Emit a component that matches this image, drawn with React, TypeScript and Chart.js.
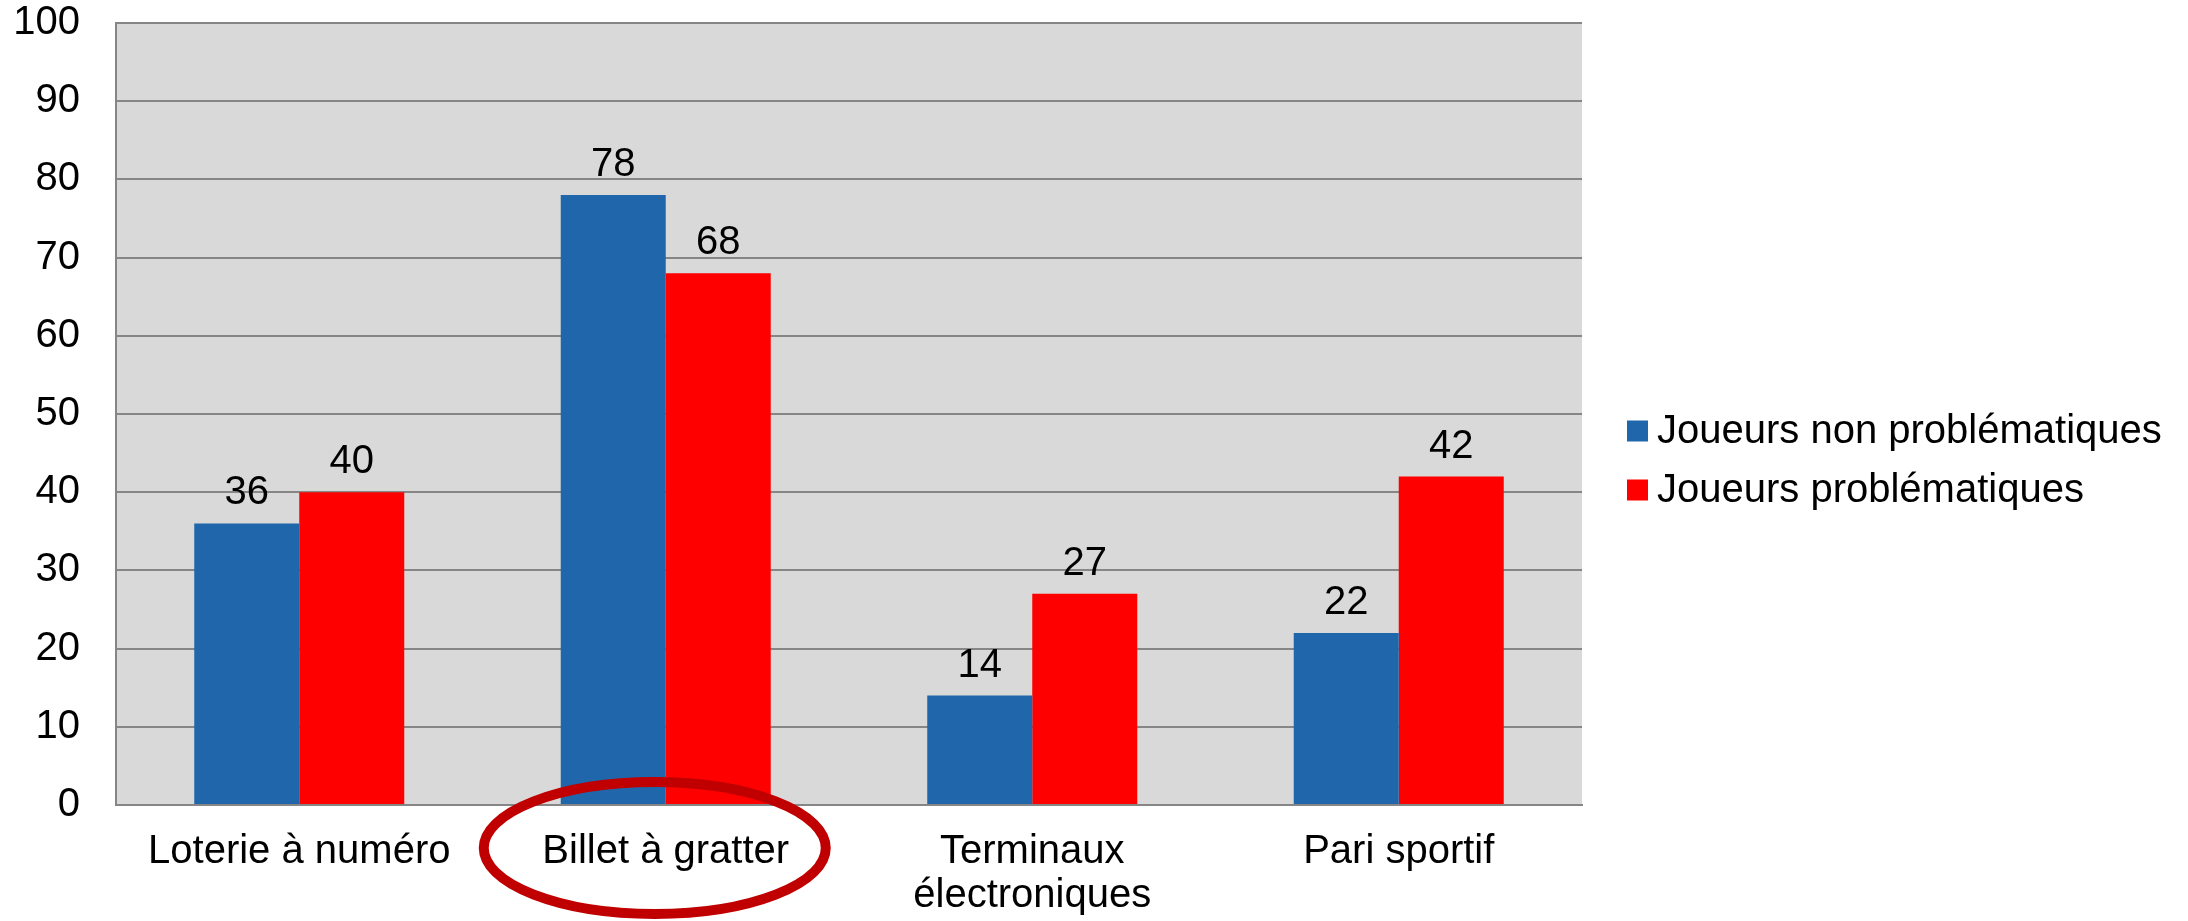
import React, { useEffect, useRef } from 'react';
import { Chart, registerables } from 'chart.js';

Chart.register(...registerables);

const categories: (string | string[])[] = [
  'Loterie à numéro',
  'Billet à gratter',
  ['Terminaux', 'électroniques'],
  'Pari sportif',
];
const seriesNames = ['Joueurs non problématiques', 'Joueurs problématiques'];
const nonProblematic = [36, 78, 14, 22];
const problematic = [40, 68, 27, 42];
const seriesColors = ['#1F66AA', '#FF0000'];
const yMin = 0;
const yMax = 100;
const yStep = 10;
const highlightedCategory = 1;

const FONT = "'Liberation Sans', Arial, sans-serif";
const FONT_SIZE = 40;

const plotBackground = {
  id: 'plotBackground',
  beforeDraw(chart: any) {
    const { ctx, chartArea } = chart;
    ctx.save();
    ctx.fillStyle = '#D9D9D9';
    ctx.fillRect(chartArea.left, chartArea.top, chartArea.right - chartArea.left, chartArea.bottom - chartArea.top);
    ctx.restore();
  },
};

const valueLabels = {
  id: 'valueLabels',
  afterDatasetsDraw(chart: any) {
    const { ctx } = chart;
    ctx.save();
    ctx.font = `${FONT_SIZE}px ${FONT}`;
    ctx.fillStyle = '#000';
    ctx.textAlign = 'center';
    ctx.textBaseline = 'alphabetic';
    chart.data.datasets.forEach((ds: any, i: number) => {
      const meta = chart.getDatasetMeta(i);
      meta.data.forEach((bar: any, j: number) => {
        ctx.fillText(String(ds.data[j]), bar.x, bar.y - 19);
      });
    });
    ctx.restore();
  },
};

const customLegend = {
  id: 'customLegend',
  afterDraw(chart: any) {
    const { ctx, chartArea } = chart;
    const x0 = chartArea.right + 45;
    const rowGap = 59;
    const n = chart.data.datasets.length;
    const centerY = chart.height / 2;
    const startY = centerY - ((n - 1) * rowGap) / 2;
    ctx.save();
    ctx.font = `${FONT_SIZE}px ${FONT}`;
    ctx.textAlign = 'left';
    ctx.textBaseline = 'middle';
    chart.data.datasets.forEach((ds: any, i: number) => {
      const cy = startY + i * rowGap;
      ctx.fillStyle = ds.backgroundColor;
      ctx.fillRect(x0, cy - 10.5, 21, 21);
      ctx.fillStyle = '#000';
      ctx.fillText(ds.label, x0 + 30, cy + 1);
    });
    ctx.restore();
  },
};

const highlightEllipse = {
  id: 'highlightEllipse',
  afterDraw(chart: any) {
    const { ctx, chartArea } = chart;
    const xScale = chart.scales.x;
    const cx = xScale.getPixelForValue(highlightedCategory) - 11;
    const cy = chartArea.bottom + 43;
    ctx.save();
    ctx.strokeStyle = '#C00000';
    ctx.lineWidth = 10;
    ctx.beginPath();
    ctx.ellipse(cx, cy, 171, 66, 0, 0, Math.PI * 2);
    ctx.stroke();
    ctx.restore();
  },
};

export default function App() {
  const canvasRef = useRef<HTMLCanvasElement | null>(null);

  useEffect(() => {
    document.body.style.margin = '0';
    const canvas = canvasRef.current;
    if (!canvas) return;
    const chart = new Chart(canvas, {
      type: 'bar',
      data: {
        labels: categories as any,
        datasets: [
          {
            label: seriesNames[0],
            data: nonProblematic,
            backgroundColor: seriesColors[0],
            categoryPercentage: 0.573,
            barPercentage: 1,
          },
          {
            label: seriesNames[1],
            data: problematic,
            backgroundColor: seriesColors[1],
            categoryPercentage: 0.573,
            barPercentage: 1,
          },
        ],
      },
      options: {
        responsive: false,
        animation: false,
        layout: { padding: { left: 0, top: 23, right: 606, bottom: 0 } },
        plugins: {
          legend: { display: false },
          tooltip: { enabled: false },
        },
        scales: {
          x: {
            grid: { display: false, drawTicks: false },
            border: { display: true, color: '#868686', width: 2 },
            ticks: {
              color: '#000',
              padding: 25,
              maxRotation: 0,
              autoSkip: false,
              font: { family: FONT, size: FONT_SIZE, lineHeight: 44 / 40 },
            },
            afterFit(scale: any) {
              scale.height = 116;
              scale.paddingLeft = 0;
              scale.paddingRight = 0;
            },
          },
          y: {
            min: yMin,
            max: yMax,
            grid: { color: '#868686', lineWidth: 2, drawTicks: false },
            border: { display: true, color: '#868686', width: 2 },
            ticks: {
              stepSize: yStep,
              color: '#000',
              padding: 36,
              font: { family: FONT, size: FONT_SIZE },
            },
            afterFit(scale: any) {
              scale.width = 116;
              scale.paddingTop = 0;
              scale.paddingBottom = 0;
            },
          },
        },
      },
      plugins: [plotBackground, valueLabels, customLegend, highlightEllipse],
    });
    return () => chart.destroy();
  }, []);

  return (
    <div style={{ width: 2188, height: 921, background: '#fff' }}>
      <canvas ref={canvasRef} width={2188} height={921} style={{ display: 'block' }} />
    </div>
  );
}
